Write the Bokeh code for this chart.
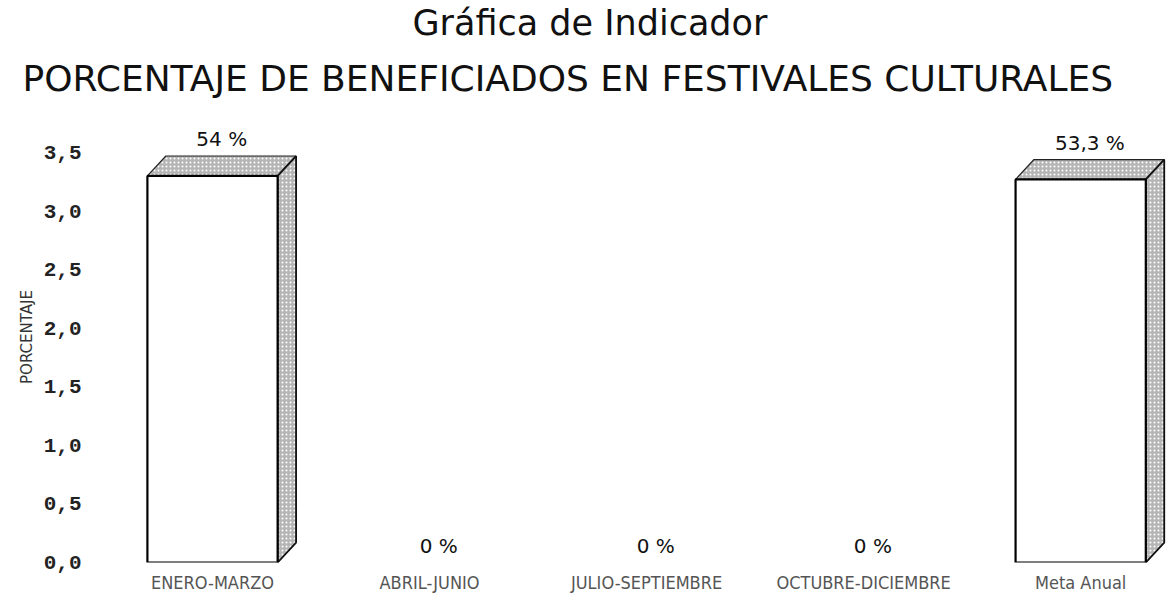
from bokeh.plotting import figure
from bokeh.models import Range1d, FixedTicker, Title, ColumnDataSource
from bokeh.core.properties import value
from bokeh.embed import file_html
from bokeh.resources import INLINE

categories = ["ENERO-MARZO", "ABRIL-JUNIO", "JULIO-SEPTIEMBRE", "OCTUBRE-DICIEMBRE", "Meta Anual"]
values = [3.30, 0.0, 0.0, 0.0, 3.27]
bar_labels = ["54 %", "0 %", "0 %", "0 %", "53,3 %"]
y_ticks = [0.0, 0.5, 1.0, 1.5, 2.0, 2.5, 3.0, 3.5]
y_tick_labels = ["0,0", "0,5", "1,0", "1,5", "2,0", "2,5", "3,0", "3,5"]

title_1 = "Gráfica de Indicador"
title_2 = "PORCENTAJE DE BENEFICIADOS EN FESTIVALES CULTURALES"
y_label = "PORCENTAJE"

# 3D look
bw = 0.6
dx = 0.085
dy = 0.17

p = figure(width=1167, height=595, output_backend="svg", toolbar_location=None,
           x_range=Range1d(-0.576, 4.40), y_range=Range1d(0, 3.85),
           min_border_left=87, min_border_right=0, min_border_bottom=30,
           outline_line_color=None, background_fill_color="white")
p.grid.visible = False

p.add_layout(Title(text=title_2, align="left", offset=-65, text_font="DejaVu Sans",
                   text_font_size="36px", text_font_style="normal", text_color="#111111",
                   standoff=26), "above")
p.add_layout(Title(text=title_1, align="left", offset=325, text_font="DejaVu Sans",
                   text_font_size="35px", text_font_style="normal", text_color="#111111",
                   standoff=0), "above")

xs = list(range(len(categories)))
front_x, front_v = [], []
top_xs, top_ys, side_xs, side_ys = [], [], [], []
for i, v in zip(xs, values):
    if v <= 0:
        continue
    x0, x1 = i - bw / 2, i + bw / 2
    front_x.append(i)
    front_v.append(v)
    top_xs.append([x0, x1, x1 + dx, x0 + dx])
    top_ys.append([v, v, v + dy, v + dy])
    side_xs.append([x1, x1, x1 + dx, x1 + dx])
    side_ys.append([0, v, v + dy, dy])

p.patches(top_xs, top_ys, fill_color="#b5b5b5", line_color="#222222", line_width=1.2,
          hatch_pattern="dot", hatch_color="white", hatch_scale=4, hatch_weight=1)
p.patches(side_xs, side_ys, fill_color="#b5b5b5", line_color="#111111", line_width=1.8,
          hatch_pattern="dot", hatch_color="white", hatch_scale=4, hatch_weight=1)
p.vbar(x=front_x, top=front_v, bottom=0, width=bw, fill_color="white",
       line_color="black", line_width=2.2)

lab_src = ColumnDataSource(dict(x=[i + dx / 2 for i in xs],
                                y=[v + (dy if v > 0 else 0) for v in values], t=bar_labels))
p.text(x="x", y="y", text="t", source=lab_src, text_align="center", text_baseline="bottom",
       y_offset=-5, text_font=value("DejaVu Sans"), text_font_size="20px", text_color="#111111")

p.xaxis.ticker = FixedTicker(ticks=xs)
p.xaxis.major_label_overrides = {i: c for i, c in zip(xs, categories)}
p.xaxis.major_label_text_font = "DejaVu Sans Condensed"
p.xaxis.major_label_text_font_size = "18px"
p.xaxis.major_label_text_color = "#555555"
p.xaxis.axis_line_color = None
p.xaxis.major_tick_line_color = None
p.xaxis.minor_tick_line_color = None
p.xaxis.major_label_standoff = 3

p.yaxis.ticker = FixedTicker(ticks=y_ticks)
p.yaxis.major_label_overrides = {t: l for t, l in zip(y_ticks, y_tick_labels)}
p.yaxis.major_label_text_font = "Liberation Mono"
p.yaxis.major_label_text_font_size = "21px"
p.yaxis.major_label_text_font_style = "bold"
p.yaxis.major_label_text_color = "#222222"
p.yaxis.axis_line_color = None
p.yaxis.major_tick_line_color = None
p.yaxis.minor_tick_line_color = None
p.yaxis.major_label_standoff = 0
p.yaxis.axis_label = y_label
p.yaxis.axis_label_text_font = "DejaVu Sans"
p.yaxis.axis_label_text_font_size = "15px"
p.yaxis.axis_label_text_font_style = "normal"
p.yaxis.axis_label_text_color = "#333333"
p.yaxis.axis_label_standoff = 5

open("out.html", "w").write(file_html(p, INLINE))
